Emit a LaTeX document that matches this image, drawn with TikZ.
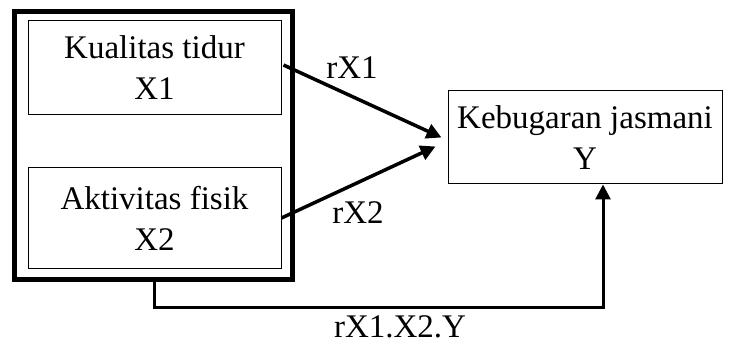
\documentclass[tikz,border=0pt]{standalone}
\usepackage{fontspec}
\setmainfont{Liberation Serif}
\usetikzlibrary{arrows.meta,calc}
\begin{document}
\begin{tikzpicture}[x=1pt,y=-1pt,
  every node/.style={font=\fontsize{33}{41}\selectfont},
  thinbox/.style={draw,line width=1pt,align=center,inner sep=0pt},
  arr/.style={line width=3.5pt,-{Triangle[length=15pt,width=15pt]}},
  lab/.style={inner sep=0pt}]
\useasboundingbox[fill=white] (0,0) rectangle (730,347);
\node[draw,line width=5pt,minimum width=278pt,minimum height=267pt,inner sep=0pt] (outer) at (153,145.5) {};
\node[thinbox,minimum width=253pt,minimum height=94pt] (x1) at (154.5,68) {Kualitas tidur\\X1};
\node[thinbox,minimum width=253pt,minimum height=100pt] (x2) at (154.5,218) {Aktivitas fisik\\X2};
\node[thinbox,minimum width=274pt,minimum height=93pt] (y) at (585,137.5) {Kebugaran jasmani\\Y};
\coordinate (t1) at ($(y.west)+(-6,0)$);
\coordinate (t2) at ($(y.west)+(-12,9)$);
\draw[arr] ($(x1.east)+(2,-3)$) -- (t1);
\draw[arr] (x2.east) -- (t2);
\coordinate (s) at (154,279);
\coordinate (c1) at (154,307);
\coordinate (t3) at ($(y.south)+(18,0)$);
\draw[arr,line width=3pt] (s) -- (c1) -| (t3);
\node[lab] (l1) at (352,68) {rX1};
\node[lab] (l2) at (358,213) {rX2};
\node[lab] (l3) at (400,327) {rX1.X2.Y};
\end{tikzpicture}
\end{document}
